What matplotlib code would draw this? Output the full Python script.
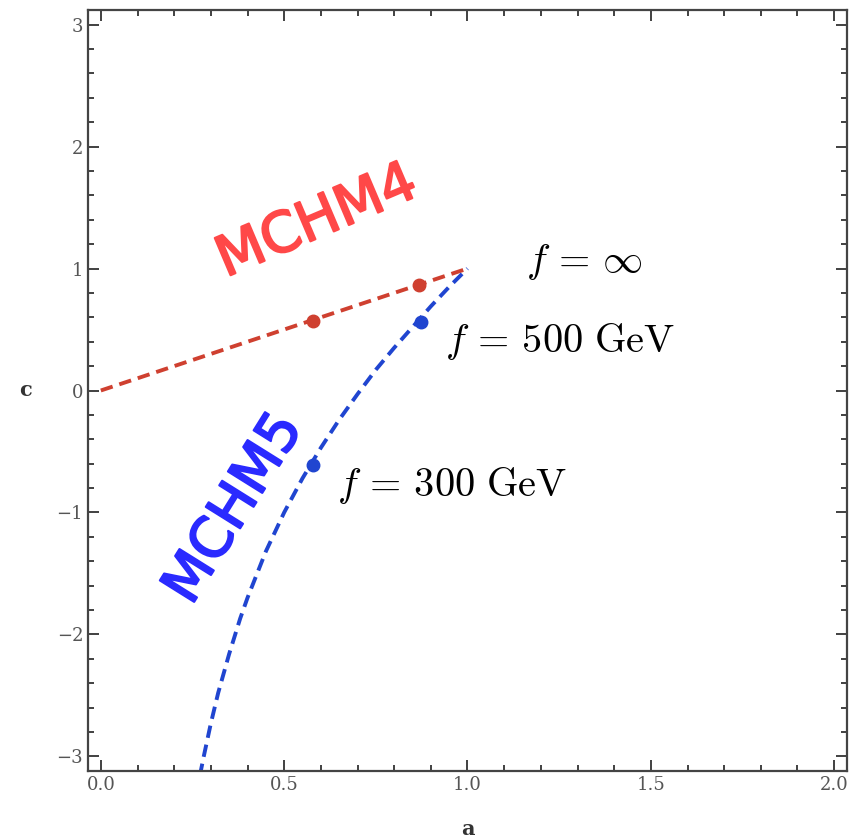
import matplotlib.pyplot as plt
import matplotlib.patheffects as pe
from matplotlib.ticker import MultipleLocator

plt.rcParams["mathtext.fontset"] = "cm"

# MCHM4 line (c = a)
mchm4_a = [0.0, 1.0]
mchm4_c = [0.0, 1.0]
mchm4_pts_a = [0.579, 0.869]
mchm4_pts_c = [0.566, 0.862]

# MCHM5 curve
mchm5_a = [0.27, 0.28, 0.30, 0.32, 0.35, 0.38, 0.40, 0.45, 0.50, 0.55, 0.60,
           0.65, 0.70, 0.75, 0.80, 0.85, 0.90, 0.95, 1.00]
mchm5_c = [-3.16, -3.01, -2.73, -2.48, -2.16, -1.87, -1.70, -1.32, -1.00,
           -0.72, -0.47, -0.24, -0.03, 0.17, 0.35, 0.52, 0.69, 0.85, 1.00]
mchm5_pts_a = [0.579, 0.872]
mchm5_pts_c = [-0.61, 0.558]

RED = "#cf4030"
BLUE = "#2045d0"

fig = plt.figure(figsize=(8.67, 8.40), dpi=100)
ax = fig.add_axes([88 / 867, 1 - 771 / 840, (847 - 88) / 867, (771 - 10) / 840])

ax.plot(mchm4_a, mchm4_c, ls=(0, (3.2, 1.8)), color=RED, lw=2.8)
ax.plot(mchm5_a, mchm5_c, ls=(0, (3.2, 1.8)), color=BLUE, lw=2.8)
ax.plot(mchm4_pts_a, mchm4_pts_c, "o", color=RED, ms=9)
ax.plot(mchm5_pts_a, mchm5_pts_c, "o", color=BLUE, ms=9)

ax.set_xlim(-0.035, 2.035)
ax.set_ylim(-3.12, 3.12)

ax.xaxis.set_minor_locator(MultipleLocator(0.1))
ax.yaxis.set_minor_locator(MultipleLocator(0.2))
ax.tick_params(which="both", direction="in", top=True, right=True,
               color="#333333", width=1.3)
ax.tick_params(which="major", length=8)
ax.tick_params(which="minor", length=4)
ax.tick_params(labelsize=13, labelcolor="#555555")
ax.set_xticks([0, 0.5, 1.0, 1.5, 2.0])
ax.set_xticklabels(["0.0", "0.5", "1.0", "1.5", "2.0"], family="DejaVu Serif")
ax.set_yticks([-3, -2, -1, 0, 1, 2, 3])
ax.set_yticklabels(["\u22123", "\u22122", "\u22121", "0", "1", "2", "3"],
                   family="DejaVu Serif")
for s in ax.spines.values():
    s.set_color("#444444")
    s.set_linewidth(1.6)

ax.set_xlabel("a", family="DejaVu Serif", fontweight="bold", fontsize=15,
              color="#333333", labelpad=18)
ax.set_ylabel("c", family="DejaVu Serif", fontweight="bold", fontsize=15,
              color="#333333", rotation=0, labelpad=22, va="center")

ax.text(1.16, 1.05, r"$f\,=\,\infty$", fontsize=29, va="center", ha="left")
ax.text(0.94, 0.40, r"$f\,=\,500\ \mathrm{GeV}$", fontsize=29, va="center", ha="left")
ax.text(0.645, -0.78, r"$f\,=\,300\ \mathrm{GeV}$", fontsize=29, va="center", ha="left")

# hand-drawn look: thicken the strokes a little
ax.text(0.59, 1.38, "MCHM4", color="#ff4848", fontsize=40, rotation=23,
        ha="center", va="center", family="DejaVu Sans",
        path_effects=[pe.withStroke(linewidth=1.5, foreground="#ff4848")])
ax.text(0.365, -0.97, "MCHM5", color="#2a2aff", fontsize=40, rotation=58,
        ha="center", va="center", family="DejaVu Sans",
        path_effects=[pe.withStroke(linewidth=1.5, foreground="#2a2aff")])

fig.savefig("out.png", dpi=100)
